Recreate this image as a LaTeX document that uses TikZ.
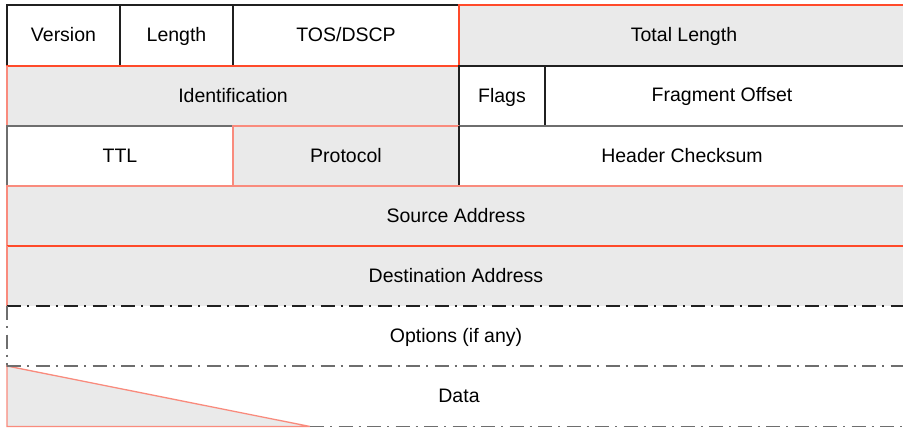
\documentclass[tikz,border=0pt]{standalone}
\usepackage{fontspec}
\setmainfont{Liberation Sans}
\usetikzlibrary{calc}
\definecolor{cellgrey}{HTML}{EAEAEA}
\definecolor{edgered}{HTML}{FF4A2A}
\definecolor{edgesalmon}{HTML}{F98B7D}
\definecolor{edgedark}{HTML}{202020}
\definecolor{edgegrey}{HTML}{6E6E6E}
\begin{document}
\begin{tikzpicture}[x=1pt,y=-1pt,
  cell/.style={rectangle, inner sep=0pt, outer sep=0pt, anchor=north west,
    minimum height=60.5pt, line width=1.3pt},
  whitecell/.style={cell, fill=white, draw=edgedark},
  greycell/.style={cell, fill=cellgrey, draw=edgered},
  lbl/.style={inner sep=0pt, text height=14pt, text depth=2pt,
    font=\fontsize{19.5}{21}\selectfont},
  edge/.style={line width=1.3pt},
  dashdot/.style={line width=1.3pt, dash pattern=on 14pt off 6pt on 2pt off 6.5pt}]
\useasboundingbox (0,0) rectangle (903,428);
\fill[white] (0,0) rectangle (903,428);
\begin{scope}
\clip (0,0) rectangle (903,428);

% row 1
\node[whitecell, minimum width=113pt] (ver) at (7,5) {};
\node[whitecell, minimum width=113pt] (len) at (120,5) {};
\node[whitecell, minimum width=226pt] (tos) at (233,5) {};
\node[cell, fill=cellgrey, minimum width=541pt] (tot) at (459,5) {};
\draw[edge, edgered] (tot.north east) -- (tot.north west) -- (tot.south west) -- (tot.south east);

% row 2
\node[greycell, minimum width=452pt] (ident) at (7,66) {};
\draw[edge, edgesalmon] (ident.north west) -- (ident.south west);
\node[whitecell, minimum width=86pt] (flags) at (459,66) {};
\node[cell, fill=white, minimum width=455pt] (frag) at (545,66) {};
\draw[edge, edgedark] (frag.north east) -- (frag.north west) -- (frag.south west) -- (frag.south east);

% row 3
\node[whitecell, draw=edgegrey, minimum width=226pt] (ttl) at (7,126) {};
\node[greycell, draw=edgesalmon, minimum width=226pt] (prot) at (233,126) {};
\node[cell, fill=white, minimum width=541pt] (hdr) at (459,126) {};
\draw[edge, edgegrey] (hdr.north east) -- (hdr.north west);
\draw[edge, edgedark] (hdr.north west) -- (hdr.south west);

% row 4
\node[cell, fill=cellgrey, minimum width=993pt] (src) at (7,186) {};
\draw[edge, edgesalmon] (src.north east) -- (src.north west) -- (src.south west);

% row 5
\node[cell, fill=cellgrey, minimum width=993pt] (dst) at (7,246) {};
\draw[edge, edgered] (dst.north west) -- (dst.north east);
\draw[edge, edgesalmon] (dst.north west) -- (dst.south west);

% row 6
\node[cell, fill=white, minimum width=993pt] (opts) at (7,306) {};
\draw[dashdot, edgedark] (opts.north west) -- (opts.north east);
\draw[dashdot, edgegrey] (opts.north west) -- (opts.south west);

% row 7
\node[cell, fill=white, minimum width=993pt] (data) at (7,366) {};
\coordinate (tri) at (310,426.5);
\filldraw[edge, fill=cellgrey, draw=edgesalmon]
  (data.north west) -- (data.south west) -- (tri) -- cycle;
\draw[dashdot, edgegrey] (data.north west) -- (data.north east);
\draw[dashdot, edgegrey] (tri) -- (data.south east);
\end{scope}

% field names
\node[lbl] (tver)   at (ver.center)  {Version};
\node[lbl] (tlen)   at (len.center)  {Length};
\node[lbl] (ttos)   at (tos.center)  {TOS/DSCP};
\node[lbl] (ttot)   at (684,35.5)    {Total Length};
\node[lbl] (tident) at (ident.center) {Identification};
\node[lbl] (tflags) at (flags.center) {Flags};
\node[lbl] (tfrag)  at (722,96)      {Fragment Offset};
\node[lbl] (tttl)   at (ttl.center)  {TTL};
\node[lbl] (tprot)  at (prot.center) {Protocol};
\node[lbl] (thdr)   at (682,156)     {Header Checksum};
\node[lbl] (tsrc)   at (456,216)     {Source Address};
\node[lbl] (tdst)   at (456,276)     {Destination Address};
\node[lbl] (topts)  at (456,336)     {Options (if any)};
\node[lbl] (tdata)  at (459,396)     {Data};
\end{tikzpicture}
\end{document}
